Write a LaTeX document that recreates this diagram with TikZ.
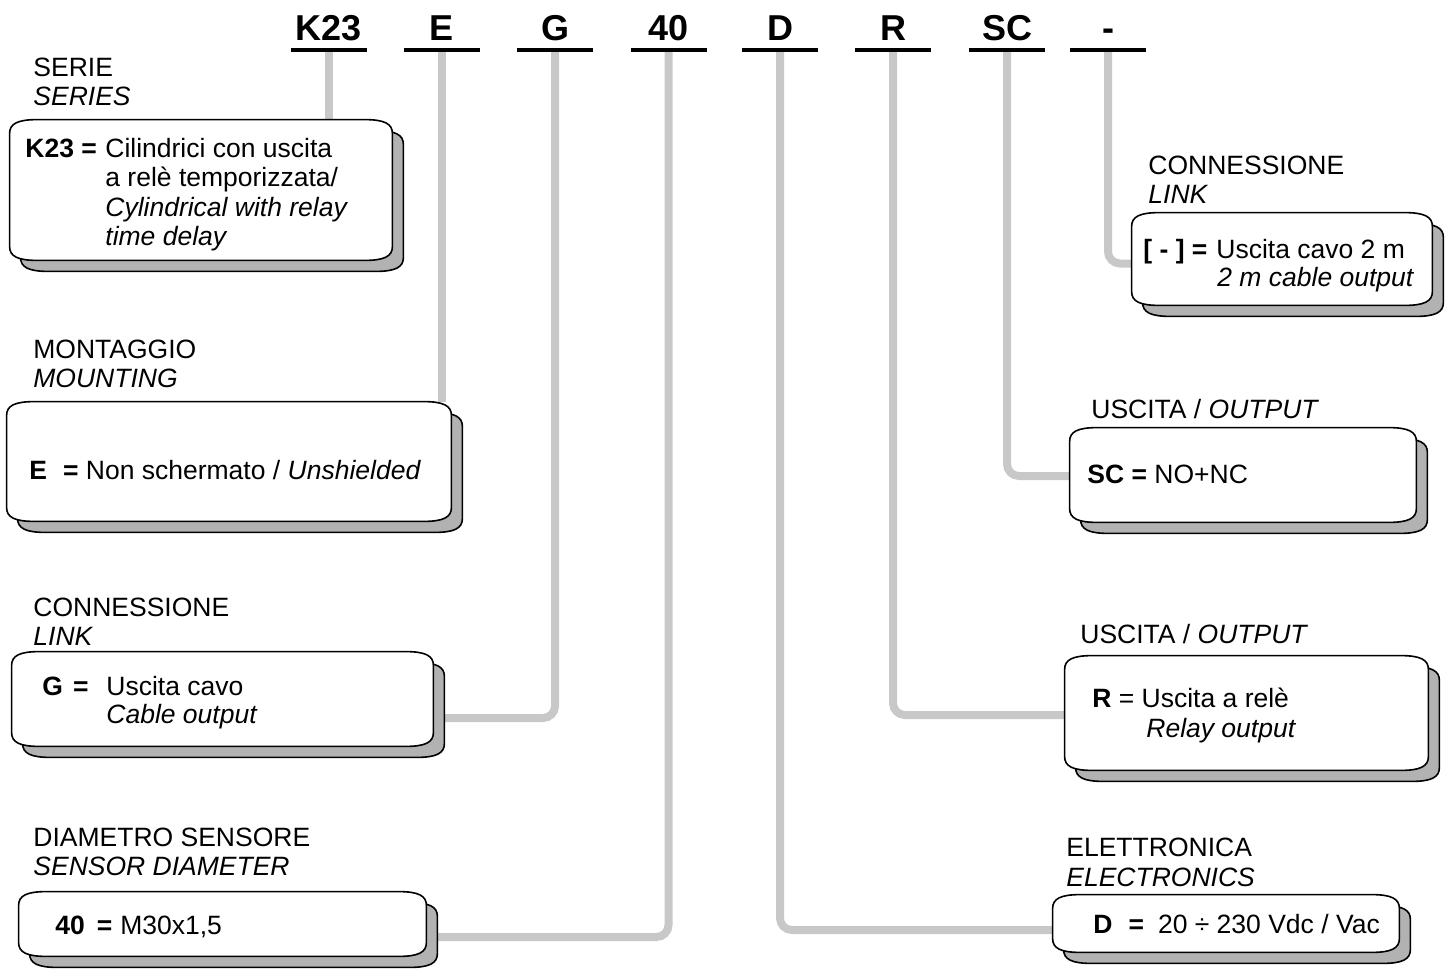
\documentclass[tikz,border=0pt]{standalone}
\usepackage{fontspec}
\setmainfont{Liberation Sans}
\usetikzlibrary{calc,fit}
\definecolor{conngray}{RGB}{200,200,200}
\definecolor{shadowgray}{RGB}{178,178,178}
\tikzset{
 lbl/.style={anchor=base west, inner sep=0pt, font=\fontsize{13.25}{15}\selectfont},
 codelbl/.style={anchor=base, inner sep=0pt, font=\fontsize{18}{20}\selectfont\bfseries},
 uline/.style={draw=black, line width=1.6pt},
 conn/.style={draw=conngray, line width=4pt, rounded corners=6pt},
 area/.style={inner sep=0pt, draw=none},
 shadowbox/.style={fill=shadowgray, draw=black, line width=0.8pt},
 mainbox/.style={fill=white, draw=black, line width=0.8pt},
}
\newcommand{\drawbox}[1]{%
 \path[shadowbox] let \p1=($(#1.north west)+(11,11)$), \p2=($(#1.south east)+(11,11)$) in
  (\x1,\y1-7pt) .. controls (\x1,\y1-2pt) and (\x1+4pt,\y1) .. (\x1+14pt,\y1) -- (\x2-14pt,\y1)
  .. controls (\x2-4pt,\y1) and (\x2,\y1-2pt) .. (\x2,\y1-7pt) -- (\x2,\y2+7pt)
  .. controls (\x2,\y2+2pt) and (\x2-4pt,\y2) .. (\x2-14pt,\y2) -- (\x1+14pt,\y2)
  .. controls (\x1+4pt,\y2) and (\x1,\y2+2pt) .. (\x1,\y2+7pt) -- cycle;
 \path[mainbox] let \p1=(#1.north west), \p2=(#1.south east) in
  (\x1,\y1-7pt) .. controls (\x1,\y1-2pt) and (\x1+4pt,\y1) .. (\x1+14pt,\y1) -- (\x2-14pt,\y1)
  .. controls (\x2-4pt,\y1) and (\x2,\y1-2pt) .. (\x2,\y1-7pt) -- (\x2,\y2+7pt)
  .. controls (\x2,\y2+2pt) and (\x2-4pt,\y2) .. (\x2-14pt,\y2) -- (\x1+14pt,\y2)
  .. controls (\x1+4pt,\y2) and (\x1,\y2+2pt) .. (\x1,\y2+7pt) -- cycle;
}
\begin{document}
\begin{tikzpicture}[x=0.5pt,y=-0.5pt]
\useasboundingbox (0,0) rectangle (1447,969);
% code letters
\node[codelbl] (cK) at (328.5,40) {K23};
\node[codelbl] (cE) at (441.5,40) {E};
\node[codelbl] (cG) at (555,40) {G};
\node[codelbl] (c40) at (668.5,40) {40};
\node[codelbl] (cD) at (780,40) {D};
\node[codelbl] (cR) at (893,40) {R};
\node[codelbl] (cSC) at (1007,40) {SC};
\node[codelbl] (cM) at (1108,40) {-};
% underline centres
\coordinate (uK) at (328.5,50);
\coordinate (uE) at (441.5,50);
\coordinate (uG) at (555,50);
\coordinate (u40) at (668.5,50);
\coordinate (uD) at (780,50);
\coordinate (uR) at (893,50);
\coordinate (uSC) at (1007,50);
\coordinate (uM) at (1108,50);
% box areas
\node[area, fit={(10,120) (392,260)}] (b1) {};
\node[area, fit={(7,402) (451,521)}] (b2) {};
\node[area, fit={(12,652) (433,746)}] (b3) {};
\node[area, fit={(19,892) (426,956)}] (b4) {};
\node[area, fit={(1132,213) (1432,305)}] (b5) {};
\node[area, fit={(1070,428) (1416,522)}] (b6) {};
\node[area, fit={(1065,656) (1428,770)}] (b7) {};
\node[area, fit={(1053,895) (1399,952)}] (b8) {};
% connectors
\draw[conn] (uK) -- (uK |- b1.north);
\draw[conn] (uE) -- (uE |- b2.north);
\draw[conn] (uG) |- ($(b3.east)+(0,19)$);
\draw[conn] (u40) |- ($(b4.east)+(0,13)$);
\draw[conn] (uD) |- ($(b8.west)+(0,6.5)$);
\draw[conn] (uR) |- ($(b7.west)+(0,2)$);
\draw[conn] (uSC) |- ($(b6.west)+(0,1)$);
\draw[conn] (uM) |- ($(b5.west)+(0,4.5)$);
% underlines
\foreach \u in {uK,uE,uG,u40,uD,uR,uSC,uM}{
  \draw[uline] ($(\u)+(-38,0)$) -- ($(\u)+(38,0)$);
}
% boxes
\drawbox{b1}\drawbox{b2}\drawbox{b3}\drawbox{b4}
\drawbox{b5}\drawbox{b6}\drawbox{b7}\drawbox{b8}
% left titles
\node[lbl] (t1a) at (33,76) {SERIE};
\node[lbl] (t1b) at (33,105) {\itshape SERIES};
\node[lbl] (t2a) at (33,358) {MONTAGGIO};
\node[lbl] (t2b) at (33,387) {\itshape MOUNTING};
\node[lbl] (t3a) at (33,616) {CONNESSIONE};
\node[lbl] (t3b) at (33,645) {\itshape LINK};
\node[lbl] (t4a) at (33,846) {DIAMETRO SENSORE};
\node[lbl] (t4b) at (33,875) {\itshape SENSOR DIAMETER};
% right titles
\node[lbl] (t5a) at (1148,174) {CONNESSIONE};
\node[lbl] (t5b) at (1148,203) {\itshape LINK};
\node[lbl] (t6a) at (1091,418) {USCITA / \itshape OUTPUT};
\node[lbl] (t7a) at (1080,643) {USCITA / \itshape OUTPUT};
\node[lbl] (t8a) at (1066,856) {ELETTRONICA};
\node[lbl] (t8b) at (1066,886) {\itshape ELECTRONICS};
% box 1
\node[lbl] (x1k) at (25,157) {\bfseries K23 =};
\node[lbl] (x1a) at (105,157) {Cilindrici con uscita};
\node[lbl] (x1b) at (105,186.5) {a relè temporizzata/};
\node[lbl] (x1c) at (105,216) {\itshape Cylindrical with relay};
\node[lbl] (x1d) at (105,245.5) {\itshape time delay};
% box 2
\node[lbl] (x2a) at (29,479) {\textbf{E\hspace{8pt}=} Non schermato / \textit{Unshielded}};
% box 3
\node[lbl] (x3k) at (42,695) {\bfseries G\hspace{5pt}=};
\node[lbl] (x3a) at (106,695) {Uscita cavo};
\node[lbl] (x3b) at (106,723) {\itshape Cable output};
% box 4
\node[lbl] (x4a) at (55,934) {\textbf{40\hspace{6pt}=}\hspace{4pt}M30x1,5};
% box 5
\node[lbl] (x5k) at (1143,258) {\bfseries [ - ] =};
\node[lbl] (x5a) at (1216,258) {Uscita cavo 2 m};
\node[lbl] (x5b) at (1217,286) {\itshape 2 m cable output};
% box 6
\node[lbl] (x6a) at (1087,483) {\textbf{SC =} NO+NC};
% box 7
\node[lbl] (x7a) at (1092,707) {\textbf{R} = Uscita a relè};
\node[lbl] (x7b) at (1146,737) {\itshape Relay output};
% box 8
\node[lbl] (x8a) at (1093,933) {\textbf{D\hspace{8pt}=}\hspace{7pt}20 ÷ 230 Vdc / Vac};
\end{tikzpicture}
\end{document}
